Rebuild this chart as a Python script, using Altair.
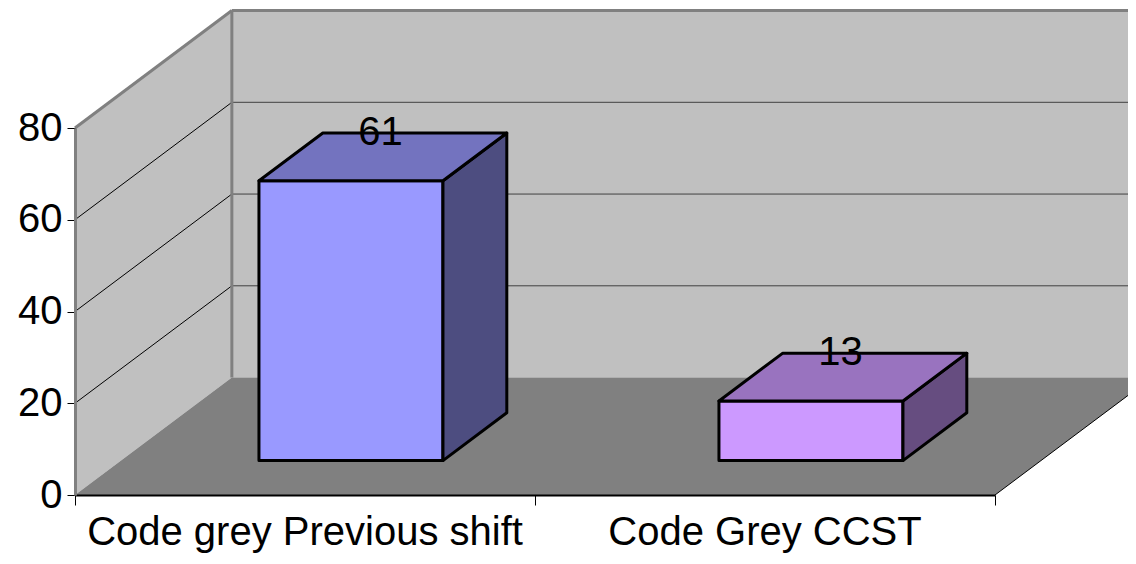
import altair as alt
import pandas as pd

# ---- data ----
categories = ["Code grey Previous shift", "Code Grey CCST"]
values = [61, 13]
y_ticks = [0, 20, 40, 60, 80]
front_colors = ["#9999FF", "#CC99FF"]
top_colors = ["#7373BF", "#9973BF"]
side_colors = ["#4D4D80", "#664D80"]

# ---- 3D geometry in data units ----
N = len(categories)
YMAX = 80
DX = 0.341   # depth offset along x (category units)
DY = 25.6    # depth offset along y (value units)
F1, F2 = 0.293, 0.70  # front / back depth fraction of bars
W = 0.4      # bar width (category units)
XR = N + DX + 0.1

FONT = "Liberation Sans"
FS = 40

xs = alt.Scale(domain=[0, N], nice=False, zero=False)
ys = alt.Scale(domain=[0, YMAX], nice=False, zero=False)
X = alt.X("x:Q", scale=xs, title=None,
          axis=alt.Axis(values=list(range(N + 1)), labels=False, tickSize=10, tickColor="black",
                        tickWidth=1, domainColor="black", domainWidth=2, grid=False, zindex=1))
Y = alt.Y("y:Q", scale=ys, title=None,
          axis=alt.Axis(values=y_ticks, labelFontSize=FS, labelFont=FONT, labelColor="black",
                        tickSize=8, tickColor="black", tickWidth=1, domainColor="#808080",
                        domainWidth=3, labelPadding=5, grid=False, zindex=1))
X2 = alt.X2("x2:Q")
Y2 = alt.Y2("y2:Q")

# walls and floor
back_wall = pd.DataFrame({"x": [DX], "x2": [XR], "y": [DY], "y2": [YMAX + DY]})
side_wall = pd.DataFrame({"x": [0, DX], "y": [0, DY], "y2": [YMAX, YMAX + DY]})
floor = pd.DataFrame({"y": [0, DY], "x": [0, DX], "x2": [N, N + DX]})

grid_vals = y_ticks[1:-1]
back_grid = pd.DataFrame({"x": [DX] * len(grid_vals), "x2": [XR] * len(grid_vals),
                          "y": [v + DY for v in grid_vals], "y2": [v + DY for v in grid_vals]})
side_grid = pd.DataFrame({"x": [0] * len(grid_vals), "x2": [DX] * len(grid_vals),
                          "y": grid_vals, "y2": [v + DY for v in grid_vals]})
edges = pd.DataFrame({
    "x": [0, DX, DX],
    "x2": [DX, DX, XR],
    "y": [YMAX, DY, YMAX + DY],
    "y2": [YMAX + DY, YMAX + DY, YMAX + DY],
})
floor_edge = pd.DataFrame({"x": [N], "x2": [N + DX], "y": [0], "y2": [DY]})

# bars
front_rows, side_rows, top_rows, lab_rows, cat_rows = [], [], [], [], []
for i, (c, v) in enumerate(zip(categories, values)):
    xl = i + 0.5 - W / 2 + F1 * DX
    xr = xl + W
    ddx = (F2 - F1) * DX
    y0 = F1 * DY
    y1 = F2 * DY
    front_rows.append({"cat": c, "x": xl, "x2": xr, "y": y0, "y2": y0 + v, "fill": front_colors[i]})
    side_rows += [
        {"cat": c, "x": xr, "y": y0, "y2": y0 + v, "fill": side_colors[i]},
        {"cat": c, "x": xr + ddx, "y": y1, "y2": y1 + v, "fill": side_colors[i]},
    ]
    top_rows += [
        {"cat": c, "y": y0 + v, "x": xl, "x2": xr, "fill": top_colors[i]},
        {"cat": c, "y": y1 + v, "x": xl + ddx, "x2": xr + ddx, "fill": top_colors[i]},
    ]
    lab_rows.append({"x": i + 0.5 + (F1 + F2) / 2 * DX - 0.005, "y": y1 + v, "t": str(v)})
    cat_rows.append({"x": i + 0.5, "y": 0, "t": c})

front = pd.DataFrame(front_rows)
side = pd.DataFrame(side_rows)
top = pd.DataFrame(top_rows)
labs = pd.DataFrame(lab_rows)
cats = pd.DataFrame(cat_rows)

FILL = alt.Color("fill:N", scale=None)

layers = [
    alt.Chart(back_wall).mark_rect(color="#C0C0C0").encode(x=X, x2=X2, y=Y, y2=Y2),
    alt.Chart(side_wall).mark_area(color="#C0C0C0").encode(x=X, y=Y, y2=Y2),
    alt.Chart(floor).mark_area(color="#808080", orient="horizontal").encode(y=Y, x=X, x2=X2),
    alt.Chart(back_grid).mark_rule(color="#404040", strokeWidth=1).encode(x=X, x2=X2, y=Y, y2=Y2),
    alt.Chart(side_grid).mark_rule(color="black", strokeWidth=1).encode(x=X, x2=X2, y=Y, y2=Y2),
    alt.Chart(edges).mark_rule(color="#808080", strokeWidth=3).encode(x=X, x2=X2, y=Y, y2=Y2),
    alt.Chart(floor_edge).mark_rule(color="black", strokeWidth=1).encode(x=X, x2=X2, y=Y, y2=Y2),
    alt.Chart(front).mark_rect(stroke="black", strokeWidth=3, strokeJoin="round").encode(
        x=X, x2=X2, y=Y, y2=Y2, fill=FILL),
    alt.Chart(side).mark_area(stroke="black", strokeWidth=3, strokeJoin="round").encode(
        x=X, y=Y, y2=Y2, fill=FILL, detail="cat:N"),
    alt.Chart(top).mark_area(stroke="black", strokeWidth=3, strokeJoin="round", orient="horizontal").encode(
        y=Y, x=X, x2=X2, fill=FILL, detail="cat:N"),
    alt.Chart(labs).mark_text(fontSize=FS, font=FONT, color="black", align="center", baseline="middle").encode(
        x=X, y=Y, text="t:N"),
    alt.Chart(cats).mark_text(fontSize=FS, font=FONT, color="black", align="center", baseline="alphabetic", dy=50).encode(
        x=X, y=Y, text="t:N"),
]

chart = alt.layer(*layers).properties(
    width=920,
    height=367,
    autosize=alt.AutoSizeParams(type="none"),
    padding={"left": 67, "top": 120, "right": 133, "bottom": 61},
).configure_view(stroke=None)

chart.save("out.html", embed_options={"renderer": "svg", "actions": False})
